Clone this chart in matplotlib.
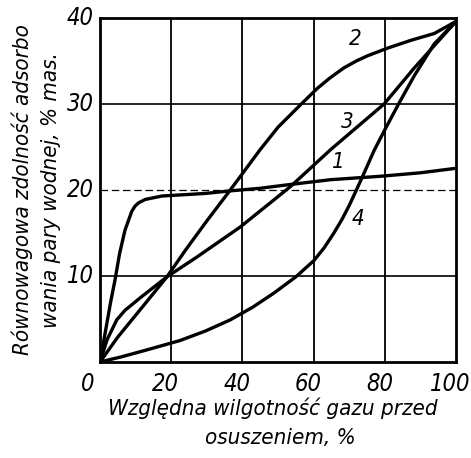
import matplotlib
matplotlib.use("Agg")
import matplotlib.pyplot as plt

# values (x: relative humidity %, y: adsorption % mas.)
x1 = [0, 1.5, 3.0, 4.2, 5.5, 7.0, 8.9, 9.8, 10.8, 12.7, 17.4, 29.6, 36.6, 45, 52.6, 64.8, 78.9, 90, 99.5]
y1 = [0, 3.5, 7.0, 9.5, 12.6, 15.3, 17.5, 18.1, 18.5, 18.9, 19.3, 19.6, 19.9, 20.2, 20.6, 21.2, 21.6, 22.0, 22.5]

x2 = [0, 5, 12.7, 18.8, 24, 30, 36.6, 45, 50, 56.3, 61, 64.5, 68.5, 72, 75.1, 80.8, 87.3, 93.9, 100]
y2 = [0, 2.9, 6.8, 9.9, 13.0, 16.4, 20.0, 24.7, 27.3, 29.9, 31.8, 33.0, 34.2, 35.0, 35.6, 36.5, 37.4, 38.2, 39.6]

x3 = [0, 2, 4.7, 7, 11.7, 18.8, 27.2, 39.4, 53.5, 64.8, 79.8, 88.3, 100]
y3 = [0, 2.6, 4.9, 6.0, 7.6, 9.9, 12.2, 15.7, 20.4, 24.7, 30.0, 34.2, 39.6]

x4 = [0, 6, 13.1, 22.5, 29.6, 36.6, 43, 48.8, 55, 60.1, 63, 65.7, 68, 70, 71.8, 74, 77, 80, 84, 88.3, 93.9, 100]
y4 = [0, 0.6, 1.4, 2.5, 3.6, 4.9, 6.4, 8.0, 9.9, 11.8, 13.3, 15.0, 16.6, 18.2, 19.8, 21.8, 24.6, 27.0, 30.1, 33.3, 37.0, 39.6]

labels = ["1", "2", "3", "4"]
label_pos = [(66.7, 23.3), (71.8, 37.6), (69.5, 27.9), (72.6, 16.6)]

xticks = [0, 20, 40, 60, 80, 100]
yticks = [10, 20, 30, 40]

plt.rcParams["font.family"] = ["DejaVu Sans"]
plt.rcParams["font.style"] = "italic"
plt.rcParams["font.stretch"] = "condensed"

fig = plt.figure(figsize=(4.71, 4.58), dpi=100)
ax = fig.add_axes([100 / 471, 1 - 362 / 458, 356 / 471, 344 / 458])

# grid
for xv in xticks[1:-1]:
    ax.axvline(xv, color="black", lw=1.3, zorder=1)
for yv in yticks[:-1]:
    ls = (0, (6, 3)) if yv == 20 else "-"
    ax.axhline(yv, color="black", lw=1.2 if yv != 20 else 0.9, ls=ls, zorder=1)

for xs, ys in [(x1, y1), (x2, y2), (x3, y3), (x4, y4)]:
    ax.plot(xs, ys, color="black", lw=2.4, solid_capstyle="round",
            solid_joinstyle="round", zorder=3)

for lab, (lx, ly) in zip(labels, label_pos):
    ax.text(lx, ly, lab, fontsize=16, ha="center", va="center", style="italic")

ax.set_xlim(0, 100)
ax.set_ylim(0, 40)
for s in ax.spines.values():
    s.set_linewidth(2.0)
ax.set_xticks([])
ax.set_yticks([])

# tick labels as text so the shared corner "0" can sit below-left
for xv in xticks:
    ax.text(xv - 1.5 if xv else -3.5, -2.6, str(xv), fontsize=17, ha="center", va="center",
            transform=ax.transData, clip_on=False)
for yv in yticks:
    ax.text(-1.8, yv, str(yv), fontsize=17, ha="right", va="center",
            transform=ax.transData, clip_on=False)

fig.text(22 / 471, 1 - 190 / 458, "Równowagowa zdolność adsorbo", rotation=90,
         fontsize=16, ha="center", va="center")
fig.text(51 / 471, 1 - 190 / 458, "wania pary wodnej, % mas.", rotation=90,
         fontsize=16, ha="center", va="center")
fig.text(273 / 471, 1 - 408 / 458, "Względna wilgotność gazu przed",
         fontsize=16, ha="center", va="center")
fig.text(280 / 471, 1 - 438 / 458, "osuszeniem, %",
         fontsize=16, ha="center", va="center")

fig.savefig("out.png", dpi=100, facecolor="white")
